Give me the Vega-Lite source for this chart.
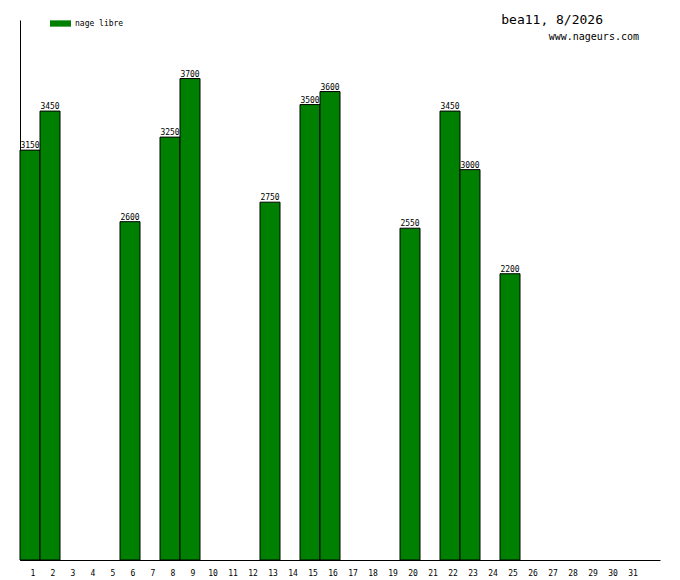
{
  "$schema": "https://vega.github.io/schema/vega-lite/v6.json",
  "width": 640,
  "height": 540,
  "autosize": "none",
  "padding": {"left": 20, "top": 20, "right": 20, "bottom": 20},
  "background": "white",
  "config": {
    "view": {"stroke": null},
    "font": "DejaVu Sans Mono"
  },
  "title": {
    "text": "bea11, 8/2026",
    "anchor": "end",
    "frame": "group",
    "dx": -57,
    "offset": -14,
    "fontSize": 13,
    "fontWeight": "normal",
    "font": "DejaVu Sans Mono",
    "color": "black"
  },
  "data": {
    "values": [
      {"day": 1, "value": 3150, "style": "nage libre"},
      {"day": 2, "value": 3450, "style": "nage libre"},
      {"day": 6, "value": 2600, "style": "nage libre"},
      {"day": 8, "value": 3250, "style": "nage libre"},
      {"day": 9, "value": 3700, "style": "nage libre"},
      {"day": 13, "value": 2750, "style": "nage libre"},
      {"day": 15, "value": 3500, "style": "nage libre"},
      {"day": 16, "value": 3600, "style": "nage libre"},
      {"day": 20, "value": 2550, "style": "nage libre"},
      {"day": 22, "value": 3450, "style": "nage libre"},
      {"day": 23, "value": 3000, "style": "nage libre"},
      {"day": 25, "value": 2200, "style": "nage libre"}
    ]
  },
  "encoding": {
    "x": {
      "field": "day",
      "type": "ordinal",
      "scale": {
        "domain": [1, 2, 3, 4, 5, 6, 7, 8, 9, 10, 11, 12, 13, 14, 15, 16, 17, 18, 19, 20, 21, 22, 23, 24, 25, 26, 27, 28, 29, 30, 31, 32],
        "paddingInner": 0,
        "paddingOuter": 0
      },
      "axis": {
        "title": null,
        "labelAngle": 0,
        "ticks": false,
        "domainColor": "black",
        "labelFontSize": 8,
        "labelColor": "black",
        "labelPadding": 9,
        "labelFont": "DejaVu Sans Mono",
        "labelExpr": "datum.value == 32 ? '' : datum.label",
        "labelOffset": 3
      }
    },
    "y": {
      "field": "value",
      "type": "quantitative",
      "scale": {"domain": [0, 4150], "nice": false},
      "axis": {
        "title": null,
        "labels": false,
        "ticks": false,
        "grid": false,
        "domainColor": "black"
      }
    }
  },
  "layer": [
    {
      "mark": {"type": "bar", "stroke": "black", "strokeWidth": 1},
      "encoding": {
        "color": {
          "field": "style",
          "type": "nominal",
          "scale": {"range": ["#008000"]},
          "legend": {
            "title": null,
            "orient": "none",
            "legendX": 30,
            "legendY": -7,
            "padding": 0,
            "symbolType": "M-1,-0.3H1V0.3H-1Z",
            "symbolSize": 441,
            "symbolStrokeWidth": 0,
            "labelFontSize": 8,
            "labelFont": "DejaVu Sans Mono",
            "labelColor": "black",
            "labelOffset": 4
          }
        }
      }
    },
    {
      "mark": {
        "type": "text",
        "baseline": "bottom",
        "dy": 0,
        "fontSize": 8,
        "font": "DejaVu Sans Mono",
        "color": "black"
      },
      "encoding": {"text": {"field": "value", "type": "quantitative"}}
    },
    {
      "data": {"values": [{"day": 31, "value": 4020, "site": "www.nageurs.com"}]},
      "mark": {
        "type": "text",
        "align": "right",
        "baseline": "middle",
        "dx": 9,
        "fontSize": 10,
        "font": "DejaVu Sans Mono",
        "color": "black"
      },
      "encoding": {"text": {"field": "site"}}
    }
  ]
}
